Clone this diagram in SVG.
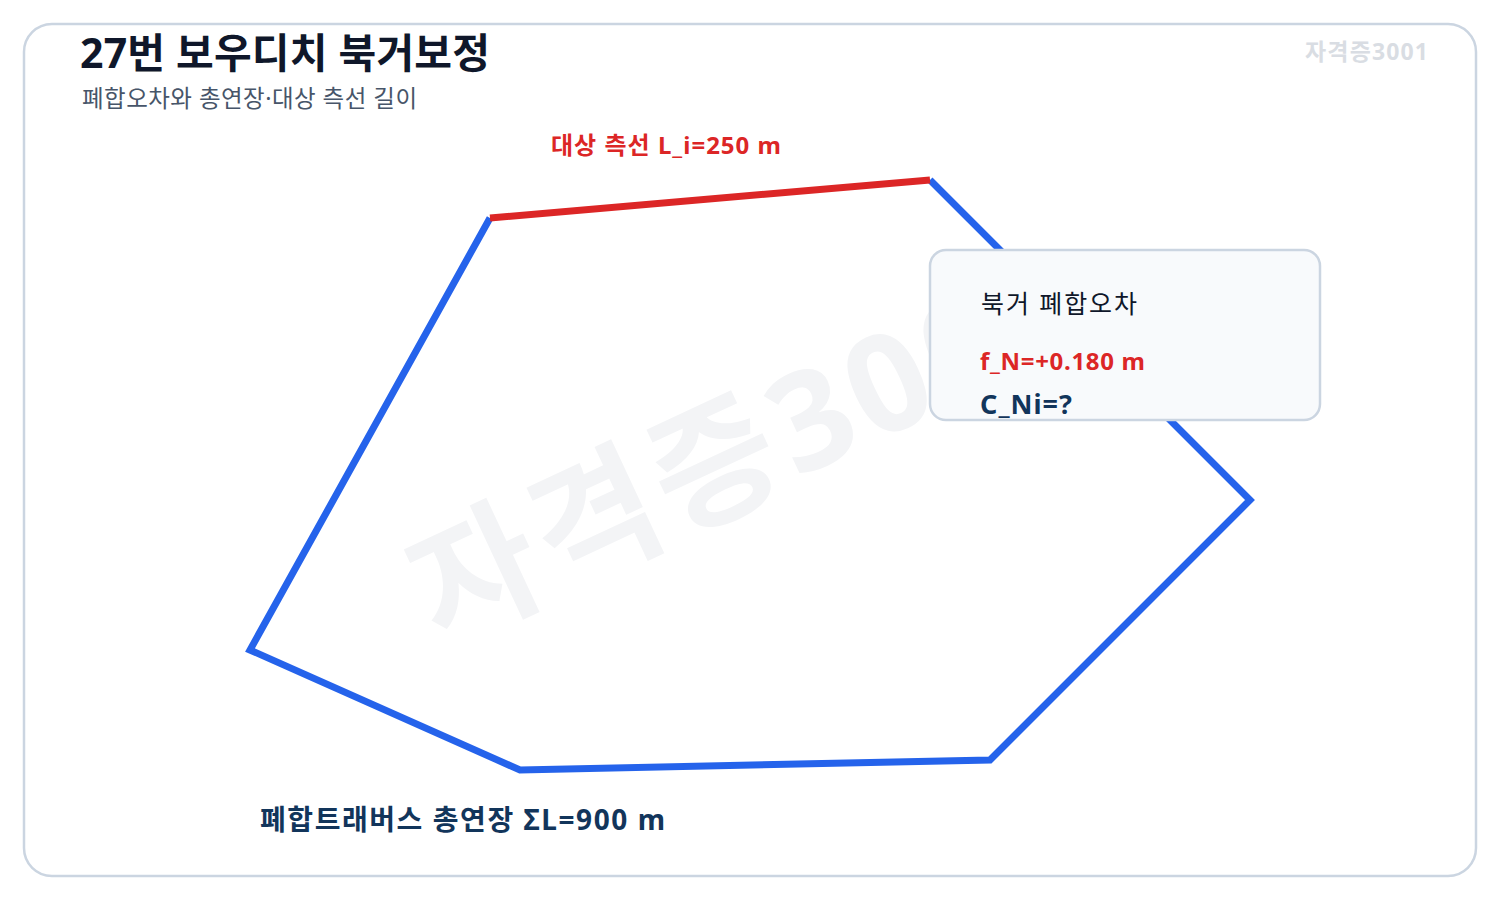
<svg xmlns="http://www.w3.org/2000/svg" width="1500" height="900" viewBox="0 0 1500 900">
<style>
text{font-family:"Noto Sans","Noto Sans CJK KR",sans-serif}
.title{font-size:41px;font-weight:700;fill:#0f172a}
.sub{font-size:23.5px;fill:#475569}
.brand{font-size:23px;font-weight:700;fill:#d9dde3}
.wm{font-size:136px;font-weight:700;fill:#f3f4f6}
.red{fill:#dc2626;font-weight:700}
.navy{fill:#12355b;font-weight:700}
.edge{fill:none;stroke-width:7;stroke-linejoin:miter}
</style>
<rect x="24" y="24" width="1452" height="852" rx="28" fill="#ffffff" stroke="#cbd5e1" stroke-width="2.5"/>
<text class="title" x="80" y="68" textLength="410" lengthAdjust="spacing">27번 보우디치 북거보정</text>
<text class="sub" x="82" y="107" textLength="335" lengthAdjust="spacing">폐합오차와 총연장·대상 측선 길이</text>
<text class="brand" x="1305" y="60" textLength="123" lengthAdjust="spacing">자격증3001</text>
<text class="wm" x="440" y="645" transform="rotate(-25 440 645)" letter-spacing="6">자격증3001</text>
<g id="connectors">
<path class="edge" stroke="#2563eb" d="M930,180 L1250,500 L990,760 L520,770 L250,650 L490,218"/>
<path class="edge" stroke="#dc2626" d="M490,218 L930,180"/>
</g>
<g id="target-label">
<text class="red" x="551" y="154" font-size="24" textLength="230" lengthAdjust="spacing">대상 측선 L_i=250 m</text>
</g>
<g id="info-box">
<rect x="930" y="250" width="390" height="170" rx="16" fill="#f8fafc" stroke="#cbd5e1" stroke-width="2.5"/>
<text x="981" y="313" font-size="25" fill="#0f172a" textLength="156" lengthAdjust="spacing">북거 폐합오차</text>
<text class="red" x="980" y="370" font-size="24" textLength="165" lengthAdjust="spacing">f_N=+0.180 m</text>
<text class="navy" x="980" y="414" font-size="27" textLength="92" lengthAdjust="spacing">C_Ni=?</text>
</g>
<g id="total-label">
<text class="navy" x="260" y="830" font-size="28" textLength="405" lengthAdjust="spacing">폐합트래버스 총연장 ΣL=900 m</text>
</g>
</svg>
